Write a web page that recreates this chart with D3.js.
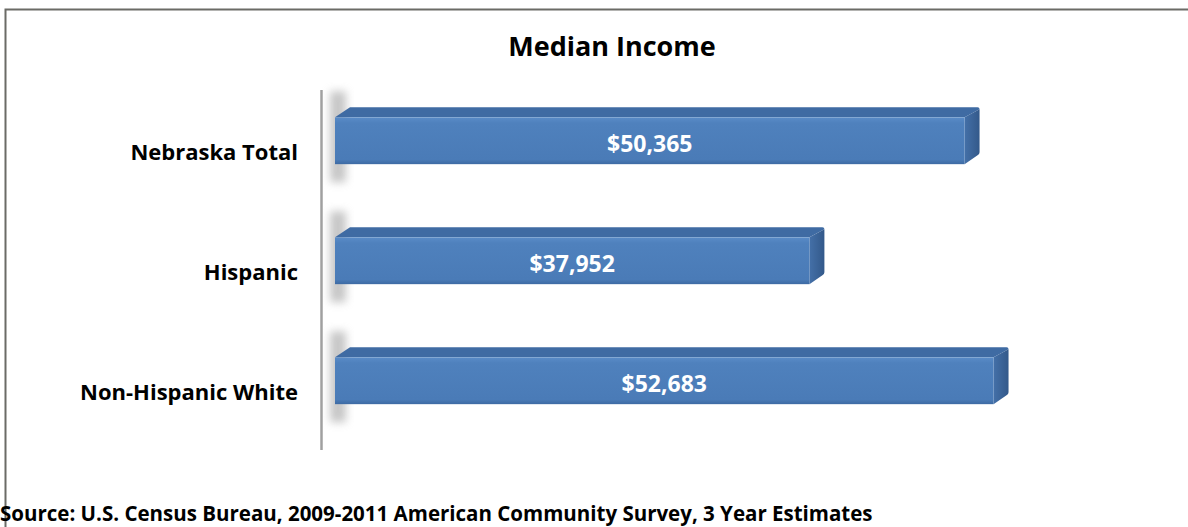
<!DOCTYPE html>
<html>
<head>
<meta charset="utf-8">
<script src="https://cdn.jsdelivr.net/npm/d3@7"></script>
<style>
  html, body { margin: 0; padding: 0; background: #fff; }
  svg { display: block; }
  text { font-family: "Open Sans", Lato, sans-serif; font-weight: bold; }
</style>
</head>
<body>
<svg id="chart" width="1188" height="527"></svg>
<script>
// Median household income by group
const categories = ["Nebraska Total", "Hispanic", "Non-Hispanic White"];
const incomes = [50365, 37952, 52683];
const valueLabels = ["$50,365", "$37,952", "$52,683"];
const title = "Median Income";
const source = "Source: U.S. Census Bureau, 2009-2011 American Community Survey, 3 Year Estimates";

const W = 1188, H = 527;
const svg = d3.select("#chart");

// frame (top and left rule)
svg.append("path")
  .attr("d", `M5.5,${H} V9.5 H${W}`)
  .attr("fill", "none").attr("stroke", "#6b6b66").attr("stroke-width", 2);

const x = d3.scaleLinear().domain([0, 60000]).range([335, 1085]);
const y = d3.scaleBand().domain(categories).range([90, 450]);
const bw = y.bandwidth();
const depthX = 15, depthY = 10;
const faceTop = d => y(d) + bw * 0.228;
const faceH = bw * 0.39;

const defs = svg.append("defs");
defs.append("filter").attr("id", "soft").attr("x", "-50%").attr("y", "-50%").attr("width", "200%").attr("height", "200%")
  .append("feGaussianBlur").attr("stdDeviation", 4);

const gFront = defs.append("linearGradient").attr("id", "front").attr("x1", 0).attr("y1", 0).attr("x2", 0).attr("y2", 1);
gFront.append("stop").attr("offset", 0).attr("stop-color", "#5a8cc8");
gFront.append("stop").attr("offset", 0.12).attr("stop-color", "#4f81bd");
gFront.append("stop").attr("offset", 0.9).attr("stop-color", "#4a7bb7");
gFront.append("stop").attr("offset", 1).attr("stop-color", "#3d6aa3");

const gSide = defs.append("linearGradient").attr("id", "side").attr("x1", 0).attr("y1", 0).attr("x2", 1).attr("y2", 0);
gSide.append("stop").attr("offset", 0).attr("stop-color", "#4470a8");
gSide.append("stop").attr("offset", 1).attr("stop-color", "#33598a");

// title
svg.append("text")
  .attr("x", 612).attr("y", 56)
  .attr("text-anchor", "middle")
  .attr("font-size", 27)
  .attr("fill", "#000")
  .text(title);

const data = categories.map((c, i) => ({ c, v: incomes[i], label: valueLabels[i] }));

// left shadow behind each bar
svg.append("g").selectAll("rect").data(data).join("rect")
  .attr("x", x(0) - 5)
  .attr("y", d => faceTop(d.c) - 26)
  .attr("width", 16)
  .attr("height", faceH + 44)
  .attr("fill", "#a8a8a8")
  .attr("opacity", 0.65)
  .attr("filter", "url(#soft)");

// category axis line
svg.append("line")
  .attr("x1", 321.5).attr("x2", 321.5)
  .attr("y1", y.range()[0]).attr("y2", y.range()[1])
  .attr("stroke", "#a0a0a0").attr("stroke-width", 2.5);

const bars = svg.append("g").selectAll("g").data(data).join("g");

// top face
bars.append("path")
  .attr("d", d => {
    const x0 = x(0), x1 = x(d.v), t = faceTop(d.c);
    return `M${x0},${t} L${x0 + depthX},${t - depthY} L${x1 + depthX - 2},${t - depthY} Q${x1 + depthX},${t - depthY} ${x1 + depthX},${t - depthY + 2} L${x1},${t} Z`;
  })
  .attr("fill", "#3f6ba3");

// right face
bars.append("path")
  .attr("d", d => {
    const x1 = x(d.v), t = faceTop(d.c), b = t + faceH;
    return `M${x1},${t} L${x1 + depthX},${t - depthY + 2} L${x1 + depthX},${b - depthY - 2} Q${x1 + depthX},${b - depthY} ${x1 + depthX - 2},${b - depthY + 1} L${x1},${b} Z`;
  })
  .attr("fill", "url(#side)");

// front face
bars.append("rect")
  .attr("x", x(0))
  .attr("y", d => faceTop(d.c))
  .attr("width", d => x(d.v) - x(0))
  .attr("height", faceH)
  .attr("fill", "url(#front)");

// value labels
bars.append("text")
  .attr("x", d => (x(0) + x(d.v)) / 2)
  .attr("y", d => faceTop(d.c) + faceH / 2 + 11)
  .attr("text-anchor", "middle")
  .attr("font-size", 23)
  .attr("fill", "#fff")
  .text(d => d.label);

// category labels
const yAxis = d3.axisLeft(y).tickSize(0).tickPadding(0);
const ax = svg.append("g").attr("transform", "translate(298,3)").call(yAxis);
ax.select(".domain").remove();
ax.selectAll("text")
  .attr("font-size", 22)
  .attr("fill", "#000")
  .attr("font-family", "'Open Sans', sans-serif");

// source note
svg.append("text")
  .attr("x", 0).attr("y", 521)
  .attr("font-size", 20.5)
  .attr("fill", "#000")
  .text(source);
</script>
</body>
</html>
